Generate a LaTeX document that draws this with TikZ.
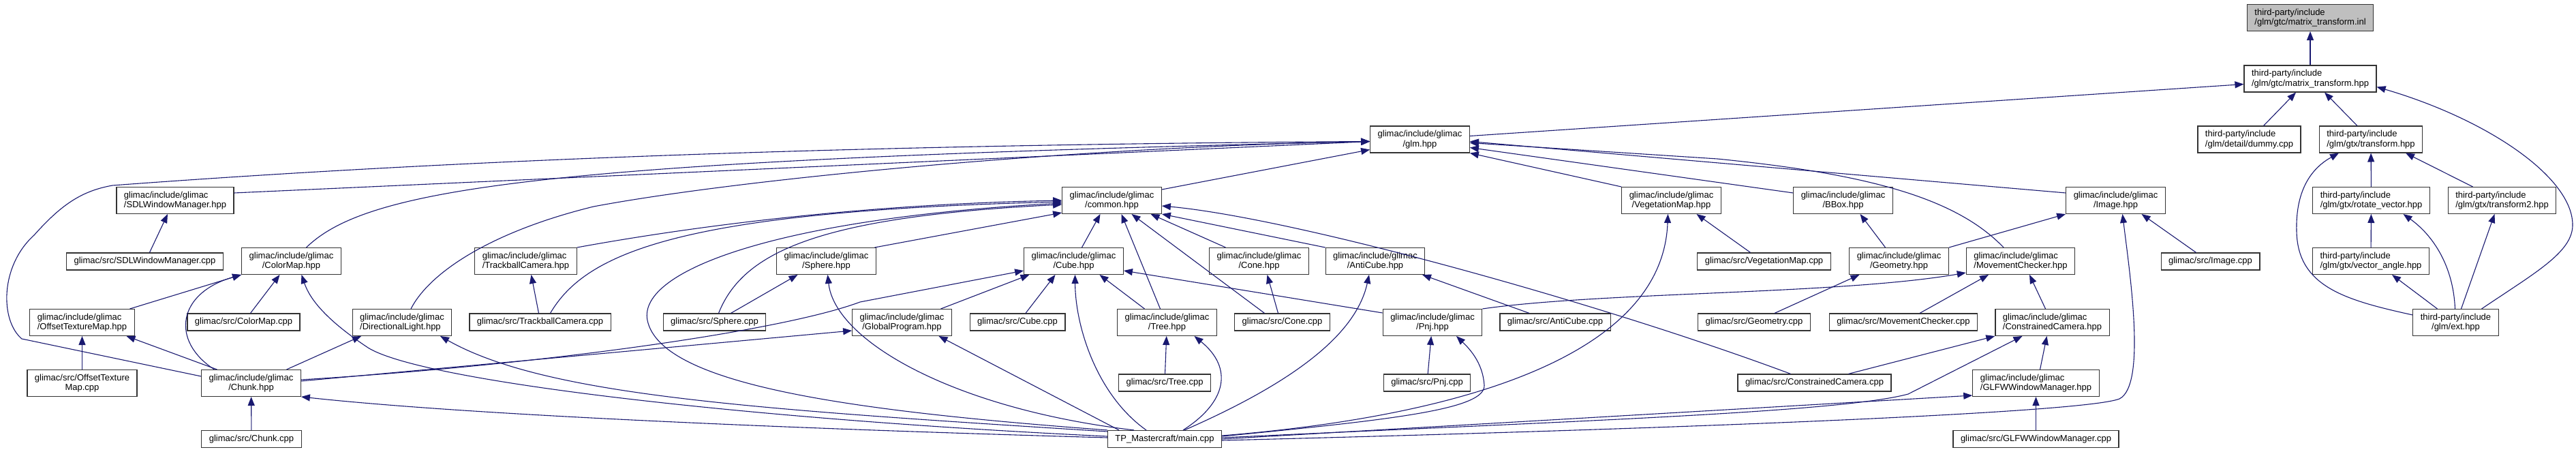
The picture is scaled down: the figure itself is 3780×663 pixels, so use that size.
\documentclass[tikz,border=0pt]{standalone}
\usepackage{fontspec}
\setmainfont{Liberation Sans}
\usetikzlibrary{arrows.meta}
\definecolor{edgeblue}{HTML}{191970}
\definecolor{rootgray}{HTML}{BFBFBF}

\begin{document}
\begin{tikzpicture}[x=1pt, y=-1pt, >={Triangle[length=13pt,width=10pt]},
    file/.style={draw=black!80, line width=1.2pt, fill=white, inner xsep=11pt, inner ysep=6pt,
        minimum height=25pt, font=\fontsize{13}{14.7}\selectfont, align=center},
    root/.style={file, fill=rootgray},
    inc/.style={->, draw=edgeblue, line width=1.1pt}]
    \useasboundingbox (0,0) rectangle (3780,663);

    % rows from top to bottom
    \node[root, align=left] (inl) at (3390,26) {third-party/include\\/glm/gtc/matrix\_transform.inl};
    \node[file, align=left] (mtx) at (3390,115.5) {third-party/include\\/glm/gtc/matrix\_transform.hpp};

    \node[file] (glm) at (2083.5,204.5) {glimac/include/glimac\\/glm.hpp};
    \node[file, align=left] (dummy) at (3300.5,204.5) {third-party/include\\/glm/detail/dummy.cpp};
    \node[file, align=left] (gtxtr) at (3479,204.5) {third-party/include\\/glm/gtx/transform.hpp};

    \node[file, align=left] (sdlh) at (257,294) {glimac/include/glimac\\/SDLWindowManager.hpp};
    \node[file] (common) at (1631.5,294) {glimac/include/glimac\\/common.hpp};
    \node[file] (vegh) at (2452.5,294) {glimac/include/glimac\\/VegetationMap.hpp};
    \node[file] (bbox) at (2704.5,294) {glimac/include/glimac\\/BBox.hpp};
    \node[file] (imgh) at (3104.5,294) {glimac/include/glimac\\/Image.hpp};
    \node[file, align=left] (rotv) at (3479.5,294) {third-party/include\\/glm/gtx/rotate\_vector.hpp};
    \node[file, align=left] (gtxtr2) at (3671.5,294) {third-party/include\\/glm/gtx/transform2.hpp};

    \node[file] (sdlc) at (212.5,383.5) {glimac/src/SDLWindowManager.cpp};
    \node[file] (cmaph) at (427.5,383) {glimac/include/glimac\\/ColorMap.hpp};
    \node[file, align=left] (trackh) at (771.5,383) {glimac/include/glimac\\/TrackballCamera.hpp};
    \node[file] (sphh) at (1212.5,383) {glimac/include/glimac\\/Sphere.hpp};
    \node[file] (cubeh) at (1575.5,383) {glimac/include/glimac\\/Cube.hpp};
    \node[file] (coneh) at (1847.5,383) {glimac/include/glimac\\/Cone.hpp};
    \node[file] (acubeh) at (2018,383) {glimac/include/glimac\\/AntiCube.hpp};
    \node[file] (vegc) at (2588.5,383.5) {glimac/src/VegetationMap.cpp};
    \node[file] (geomh) at (2786.5,383) {glimac/include/glimac\\/Geometry.hpp};
    \node[file, align=left] (moveh) at (2965,383) {glimac/include/glimac\\/MovementChecker.hpp};
    \node[file] (imgc) at (3243.5,383.5) {glimac/src/Image.cpp};
    \node[file, align=left] (vang) at (3479,383) {third-party/include\\/glm/gtx/vector\_angle.hpp};

    \node[file, align=left] (offh) at (120.5,473) {glimac/include/glimac\\/OffsetTextureMap.hpp};
    \node[file] (cmapc) at (357.5,472.5) {glimac/src/ColorMap.cpp};
    \node[file, align=left] (dirl) at (590,473) {glimac/include/glimac\\/DirectionalLight.hpp};
    \node[file] (trackc) at (792.5,472.5) {glimac/src/TrackballCamera.cpp};
    \node[file] (sphc) at (1048.5,472.5) {glimac/src/Sphere.cpp};
    \node[file] (glprog) at (1323.5,473) {glimac/include/glimac\\/GlobalProgram.hpp};
    \node[file] (cubec) at (1493,472.5) {glimac/src/Cube.cpp};
    \node[file] (treeh) at (1712.5,473) {glimac/include/glimac\\/Tree.hpp};
    \node[file] (conec) at (1881.5,472.5) {glimac/src/Cone.cpp};
    \node[file] (pnjh) at (2102,473) {glimac/include/glimac\\/Pnj.hpp};
    \node[file] (acubec) at (2282,472.5) {glimac/src/AntiCube.cpp};
    \node[file] (geomc) at (2574,472.5) {glimac/src/Geometry.cpp};
    \node[file] (movec) at (2793,472.5) {glimac/src/MovementChecker.cpp};
    \node[file, align=left] (camh) at (3011.5,473) {glimac/include/glimac\\/ConstrainedCamera.hpp};
    \node[file] (ext) at (3603.5,473) {third-party/include\\/glm/ext.hpp};

    \node[file] (offc) at (120.5,562) {glimac/src/OffsetTexture\\Map.cpp};
    \node[file] (chunkh) at (368.5,562) {glimac/include/glimac\\/Chunk.hpp};
    \node[file] (treec) at (1709,561.5) {glimac/src/Tree.cpp};
    \node[file] (pnjc) at (2094,561.5) {glimac/src/Pnj.cpp};
    \node[file] (camc) at (2662.5,561.5) {glimac/src/ConstrainedCamera.cpp};
    \node[file, align=left] (glfwh) at (2987.5,562) {glimac/include/glimac\\/GLFWWindowManager.hpp};

    \node[file] (chunkc) at (369,644) {glimac/src/Chunk.cpp};
    \node[file] (main) at (1709,644) {TP\_Mastercraft/main.cpp};
    \node[file] (glfwc) at (2987.5,644) {glimac/src/GLFWWindowManager.cpp};

    % third-party glm
    \draw[inc] (mtx) -- (inl);
    \draw[inc] ([yshift=5pt]glm.east) -- ([yshift=-8pt]mtx.west);
    \draw[inc] ([xshift=21pt]dummy.north) -- ([xshift=-21pt]mtx.south);
    \draw[inc] ([xshift=-20pt]gtxtr.north) -- ([xshift=21pt]mtx.south);
    \draw[inc] ([xshift=38pt]ext.north) .. controls (3720,400) and (3775,370) .. (3775,330)
        .. controls (3775,260) and (3650,175) .. ([yshift=-12pt]mtx.east);
    \draw[inc] (rotv) -- (gtxtr);
    \draw[inc] ([xshift=-43pt]gtxtr2.north) -- ([xshift=51pt]gtxtr.south);
    \draw[inc] ([yshift=11pt]ext.west) .. controls (3440,440) and (3372,420) .. (3370,340)
        .. controls (3368,275) and (3395,245) .. ([xshift=-47pt]gtxtr.south);
    \draw[inc] (vang) -- (rotv);
    \draw[inc] ([xshift=-1pt]ext.north) .. controls (3600,390) and (3570,345) .. ([xshift=47pt]rotv.south);
    \draw[inc] ([xshift=-27pt]ext.north) -- ([xshift=31pt]vang.south);
    \draw[inc] ([xshift=8pt]ext.north) -- ([xshift=-11pt]gtxtr2.south);

    % into glm.hpp
    \draw[inc] ([xshift=7pt]sdlc.north) -- ([xshift=-11pt]sdlh.south);
    \draw[inc] ([yshift=11pt]sdlh.east) -- ([yshift=-3pt]glm.west);
    \draw[inc] ([xshift=22pt]cmaph.north) .. controls (540,275) and (800,235) .. ([yshift=-3pt]glm.west);
    \draw[inc] ([yshift=10pt]chunkh.west) -- (32,497) .. controls (0,470) and (0,390) .. (50,345)
        .. controls (90,300) and (120,280) .. (165,272)
        .. controls (700,232) and (1300,212) .. ([yshift=-3pt]glm.west);
    \draw[inc] ([xshift=13pt]dirl.north) .. controls (630,400) and (720,340) .. (871,303)
        .. controls (1100,260) and (1600,215) .. ([yshift=-3pt]glm.west);
    \draw[inc] ([yshift=16pt]common.east) -- ([yshift=-15pt]glm.west);
    \draw[inc] (vegh.north west) -- (glm.south east);
    \draw[inc] ([yshift=11pt]bbox.west) -- ([yshift=-12pt]glm.east);
    \draw[inc] ([yshift=11pt]imgh.west) -- ([yshift=-3pt]glm.east);
    \draw[inc] ([xshift=-25pt]moveh.north) .. controls (2870,290) and (2740,255) .. (2520,233)
        -- ([yshift=-5pt]glm.east);

    % into common.hpp
    \draw[inc] (trackh.north east) .. controls (1000,335) and (1250,300) .. (common.west);
    \draw[inc] ([xshift=15pt]trackc.north) .. controls (860,370) and (1000,310) .. ([yshift=-2pt]common.west);
    \draw[inc] (main.north west) .. controls (1250,603) and (970,565) .. (950,470)
        .. controls (935,395) and (1150,320) .. ([yshift=-4pt]common.west);
    \draw[inc] ([xshift=6pt]sphc.north) .. controls (1090,370) and (1200,318) .. ([yshift=-6pt]common.west);
    \draw[inc] ([xshift=71pt]sphh.north) -- ([yshift=-18pt]common.west);
    \draw[inc] ([xshift=12pt]cubeh.north) -- ([xshift=-17pt]common.south);
    \draw[inc] ([xshift=-10pt]treeh.north) -- ([xshift=14pt]common.south);
    \draw[inc] ([xshift=-26pt]conec.north) -- ([xshift=29pt]common.south);
    \draw[inc] ([xshift=-49pt]coneh.north) -- ([xshift=57pt]common.south);
    \draw[inc] (acubeh.north west) -- (common.south east);
    \draw[inc] ([xshift=-35pt]camc.north) .. controls (2350,445) and (1900,320) .. ([yshift=-8pt]common.east);

    % left part
    \draw[inc] ([xshift=70pt]offh.north) -- (cmaph.south west);
    \draw[inc] ([xshift=-54pt]chunkh.north) .. controls (250,500) and (260,430) .. (cmaph.south west);
    \draw[inc] ([xshift=10pt]cmapc.north) -- ([xshift=-17pt]cmaph.south);
    \draw[inc] (offc) -- (offh);
    \draw[inc] ([xshift=-50pt]chunkh.north) -- ([xshift=65pt]offh.south);
    \draw[inc] (chunkc) -- (chunkh);
    \draw[inc] ([xshift=52pt]chunkh.north) -- ([xshift=-60pt]dirl.south);
    \draw[inc] ([yshift=5pt]chunkh.east) .. controls (800,535) and (1150,485) .. (1262,443)
        -- ([yshift=-14pt]cubeh.west);
    \draw[inc] ([yshift=3pt]chunkh.east) -- ([yshift=-12pt]glprog.west);
    \draw[inc] ([xshift=-2pt]trackc.north) -- ([xshift=8pt]trackh.south);

    % middle part
    \draw[inc] ([xshift=24pt]sphc.north) -- ([xshift=-42pt]sphh.south);
    \draw[inc] ([xshift=57pt]glprog.north) -- ([xshift=-65pt]cubeh.south);
    \draw[inc] ([xshift=12pt]cubec.north) -- ([xshift=-27pt]cubeh.south);
    \draw[inc] ([xshift=-33pt]treeh.north) -- ([xshift=38pt]cubeh.south);
    \draw[inc] ([yshift=-6pt]pnjh.north west) -- ([yshift=-14pt]cubeh.east);
    \draw[inc] (treec) -- (treeh);
    \draw[inc] ([xshift=-6pt]conec.north) -- ([xshift=12pt]coneh.south);
    \draw[inc] ([xshift=-38pt]acubec.north) -- ([xshift=69pt]acubeh.south);
    \draw[inc] (pnjc) -- (pnjh);
    \draw[inc] (pnjh.north east) .. controls (2350,428) and (2700,432) .. ([yshift=3pt]moveh.south west);

    % right part
    \draw[inc] ([xshift=-20pt]vegc.north) -- ([xshift=37pt]vegh.south);
    \draw[inc] ([xshift=-20pt]geomh.north) -- ([xshift=25pt]bbox.south);
    \draw[inc] (geomh.north east) -- (imgh.south west);
    \draw[inc] ([xshift=30pt]geomc.north) -- ([xshift=-58pt]geomh.south);
    \draw[inc] ([xshift=24pt]movec.north) -- ([xshift=-47pt]moveh.south);
    \draw[inc] ([xshift=-10pt]camh.north) -- ([xshift=13pt]moveh.south);
    \draw[inc] ([xshift=50pt]camc.north) -- (camh.south west);
    \draw[inc] ([xshift=6pt]glfwh.north) -- ([xshift=-8pt]camh.south);
    \draw[inc] (glfwc) -- (glfwh);
    \draw[inc] ([xshift=-21pt]imgc.north) -- ([xshift=38pt]imgh.south);

    % from main.cpp
    \draw[inc] ([yshift=4pt]main.west) .. controls (1100,615) and (620,560) .. (540,510)
        .. controls (480,470) and (455,440) .. ([xshift=15pt]cmaph.south);
    \draw[inc] ([yshift=11pt]main.west) .. controls (1100,600) and (800,580) .. ([xshift=56pt]dirl.south);
    \draw[inc] ([yshift=2pt]main.west) .. controls (1200,630) and (700,610) .. (chunkh.south east);
    \draw[inc] ([xshift=-45pt]main.north) .. controls (1400,600) and (1225,500) .. ([xshift=2pt]sphh.south);
    \draw[inc] ([xshift=-67pt]main.north) -- ([xshift=54pt]glprog.south);
    \draw[inc] ([xshift=-27pt]main.north) .. controls (1610,580) and (1578,480) .. ([xshift=2pt]cubeh.south);
    \draw[inc] ([xshift=27pt]main.north) .. controls (1800,590) and (1810,540) .. ([xshift=40pt]treeh.south);
    \draw[inc] ([xshift=29pt]main.north) .. controls (1900,560) and (1990,490) .. ([xshift=-9pt]acubeh.south);
    \draw[inc] ([yshift=4pt]main.east) .. controls (2050,615) and (2180,600) .. (2178,565)
        .. controls (2176,535) and (2160,515) .. ([xshift=35pt]pnjh.south);
    \draw[inc] ([yshift=5pt]main.east) .. controls (2150,610) and (2440,520) .. ([xshift=-5pt]vegh.south);
    \draw[inc] ([yshift=2pt]main.east) .. controls (2300,618) and (2700,605) .. (2800,578)
        -- ([xshift=-44pt]camh.south);
    \draw[inc] (main.east) -- ([yshift=-18pt]glfwh.west);
    \draw[inc] ([yshift=-2pt]main.east) .. controls (2500,628) and (3060,605) .. (3110,585)
        .. controls (3150,565) and (3125,400) .. ([xshift=10pt]imgh.south);
\end{tikzpicture}
\end{document}
